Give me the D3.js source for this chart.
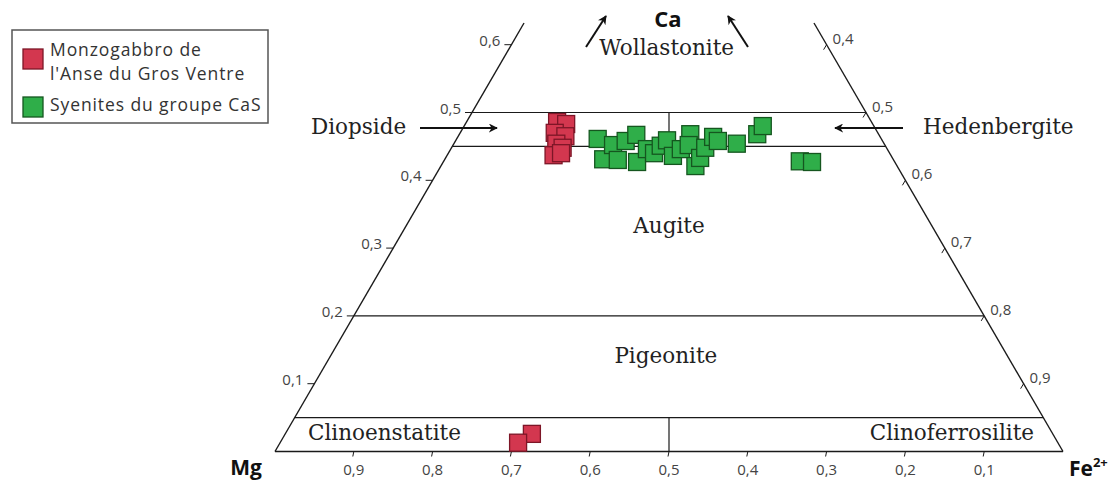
<!DOCTYPE html>
<html><head><meta charset="utf-8">
<script src="https://cdn.jsdelivr.net/npm/d3@7"></script>
<style>html,body{margin:0;padding:0;background:#fff;}svg{display:block;}</style>
</head><body>
<svg id="chart" width="1114" height="482"></svg>
<script>
// ---- data ----
// Wo = Ca fraction, Fs = Fe2+ fraction (En = 1 - Wo - Fs)
const monzoWo = [0.486,0.483,0.470,0.465,0.454,0.448,0.437,0.440,0.026,0.013];
const monzoFs = [0.115,0.128,0.120,0.136,0.130,0.141,0.135,0.143,0.313,0.302];
const syenWo = [0.461,0.431,0.452,0.430,0.458,0.467,0.427,0.446,0.440,0.451,0.459,0.436,0.446,0.468,0.452,0.421,0.433,0.448,0.464,0.458,0.454,0.468,0.480,0.428,0.427];
const syenFs = [0.179,0.201,0.203,0.220,0.216,0.225,0.246,0.249,0.261,0.264,0.268,0.287,0.292,0.293,0.299,0.323,0.323,0.322,0.324,0.333,0.359,0.378,0.379,0.452,0.468];
const seriesNames = ["Monzogabbro de", "l'Anse du Gros Ventre", "Syenites du groupe CaS"];
const bottomTicks = [0.9,0.8,0.7,0.6,0.5,0.4,0.3,0.2,0.1];   // Mg
const leftTicks = [0.1,0.2,0.3,0.4,0.5,0.6];                  // Ca
const rightTicks = [0.4,0.5,0.6,0.7,0.8,0.9];                 // 1 - Ca
const boundaries = [0.05,0.2,0.45,0.5];                       // Wo lines
const fields = [
  {name:"Wollastonite", t:0.497, wo:0.585},
  {name:"Augite", t:0.5, wo:0.322},
  {name:"Pigeonite", t:0.496, wo:0.13},
];

const svg = d3.select("#chart");
const x = d3.scaleLinear().domain([0,1]).range([275,1063]);      // t = Fs + Wo/2
const y = d3.scaleLinear().domain([0,1]).range([451.5,451.5-678]); // Wo
const fmt = v => d3.format(".1f")(v).replace(".", ",");
const line = "#1a1a1a";
const txt = "#444";

// edges
const woTop = 0.632;
svg.append("line").attr("x1",x(0)).attr("y1",y(0)).attr("x2",x(woTop/2)).attr("y2",y(woTop)).attr("stroke",line).attr("stroke-width",1.4);
svg.append("line").attr("x1",x(1)).attr("y1",y(0)).attr("x2",x(1-woTop/2)).attr("y2",y(woTop)).attr("stroke",line).attr("stroke-width",1.4);
svg.append("line").attr("x1",x(0)).attr("y1",y(0)).attr("x2",x(1)).attr("y2",y(0)).attr("stroke",line).attr("stroke-width",1.4);
// boundaries
svg.selectAll(".bd").data(boundaries).join("line")
  .attr("x1",w=>x(w/2)).attr("y1",w=>y(w)).attr("x2",w=>x(1-w/2)).attr("y2",w=>y(w))
  .attr("stroke",line).attr("stroke-width",1.2);
// vertical dividers at 0.5
[[0.45,0.5],[0,0.05]].forEach(([a,b])=>{
  svg.append("line").attr("x1",x(0.5)).attr("x2",x(0.5)).attr("y1",y(a)).attr("y2",y(b)).attr("stroke",line).attr("stroke-width",1.2);
});

// bottom ticks
bottomTicks.forEach(m=>{
  const px = x(1-m);
  svg.append("line").attr("x1",px).attr("x2",px-1).attr("y1",y(0)).attr("y2",y(0)+5).attr("stroke",line).attr("stroke-width",1);
  svg.append("text").attr("x",px).attr("y",y(0)+23).attr("text-anchor","middle")
    .attr("font-family","Open Sans").attr("font-size",15).attr("fill",txt).text(fmt(m));
});
// left ticks
leftTicks.forEach(c=>{
  const px = x(c/2), py = y(c);
  svg.append("line").attr("x1",px).attr("x2",px-7).attr("y1",py).attr("y2",py).attr("stroke",line).attr("stroke-width",1);
  svg.append("text").attr("x",px-11).attr("y",py+1).attr("text-anchor","end")
    .attr("font-family","Open Sans").attr("font-size",15).attr("fill",txt).text(fmt(c));
});
// right ticks
rightTicks.forEach(v=>{
  const c = 1-v;
  const px = x(1-c/2), py = y(c);
  svg.append("line").attr("x1",px).attr("x2",px-3).attr("y1",py).attr("y2",py+5).attr("stroke",line).attr("stroke-width",1);
  svg.append("text").attr("x",px+6).attr("y",py-1).attr("text-anchor","start")
    .attr("font-family","Open Sans").attr("font-size",15).attr("fill",txt).text(fmt(v));
});

// arrow marker
const defs = svg.append("defs");
defs.append("marker").attr("id","ah").attr("viewBox","0 0 10 10").attr("refX",9).attr("refY",5)
  .attr("markerWidth",9).attr("markerHeight",9).attr("markerUnits","userSpaceOnUse").attr("orient","auto")
  .append("path").attr("d","M0,0 L10,5 L0,10 L3,5 Z").attr("fill","#111");
function arrow(x1,y1,x2,y2){
  svg.append("line").attr("x1",x1).attr("y1",y1).attr("x2",x2).attr("y2",y2)
    .attr("stroke","#111").attr("stroke-width",2).attr("marker-end","url(#ah)");
}
const serif = "DejaVu Serif";
arrow(586,47,606,16);
arrow(748,47,728,16);
arrow(420,128,497,128);
arrow(903,128,835,128);

function label(t, px, py, anchor, size, family, weight, fill){
  return svg.append("text").attr("x",px).attr("y",py).attr("text-anchor",anchor)
    .attr("font-family",family).attr("font-size",size).attr("font-weight",weight||"normal")
    .attr("fill",fill||"#222").text(t);
}
fields.forEach(f=>label(f.name, x(f.t), y(f.wo), "middle", 21.5, serif));
label("Diopside", 311, 134, "start", 21.5, serif);
label("Hedenbergite", 923, 134, "start", 21.5, serif);
label("Clinoenstatite", 308, 440, "start", 21.5, serif);
label("Clinoferrosilite", 1034, 440, "end", 21.5, serif);

label("Ca", 668, 27, "middle", 22, "Open Sans", "bold", "#111");
label("Mg", 246, 475, "middle", 21, "Open Sans", "bold", "#111");
const fe = label("Fe", 1069, 476, "start", 21, "Open Sans", "bold", "#111");
fe.append("tspan").attr("dy",-9).attr("font-size",13).text("2+");

// points
const sq = 17;
const redFill = "#d3374f", redStroke = "#7d1627";
const greenFill = "#2fae49", greenStroke = "#15561f";
const syen = syenWo.map((w,i)=>({wo:w, fs:syenFs[i]}));
const monzo = monzoWo.map((w,i)=>({wo:w, fs:monzoFs[i]}));
svg.selectAll(".g").data(syen).join("rect")
  .attr("x",d=>x(d.fs+d.wo/2)-sq/2).attr("y",d=>y(d.wo)-sq/2).attr("width",sq).attr("height",sq)
  .attr("fill",greenFill).attr("stroke",greenStroke).attr("stroke-width",1.3);
svg.selectAll(".r").data(monzo).join("rect")
  .attr("x",d=>x(d.fs+d.wo/2)-sq/2).attr("y",d=>y(d.wo)-sq/2).attr("width",sq).attr("height",sq)
  .attr("fill",redFill).attr("stroke",redStroke).attr("stroke-width",1.3);

// legend
svg.append("rect").attr("x",12).attr("y",30).attr("width",256).attr("height",93)
  .attr("fill","#fff").attr("stroke","#555").attr("stroke-width",1.5);
svg.append("rect").attr("x",23).attr("y",49).attr("width",20).attr("height",20).attr("fill",redFill).attr("stroke",redStroke).attr("stroke-width",1.3);
svg.append("rect").attr("x",23).attr("y",97).attr("width",20).attr("height",20).attr("fill",greenFill).attr("stroke",greenStroke).attr("stroke-width",1.3);
[[0,56],[1,80],[2,111]].forEach(([i,yy])=>{
  label(seriesNames[i], 50, yy, "start", 17.5, "Open Sans", "normal", "#333").attr("letter-spacing",0.9);
});
</script>
</body></html>
